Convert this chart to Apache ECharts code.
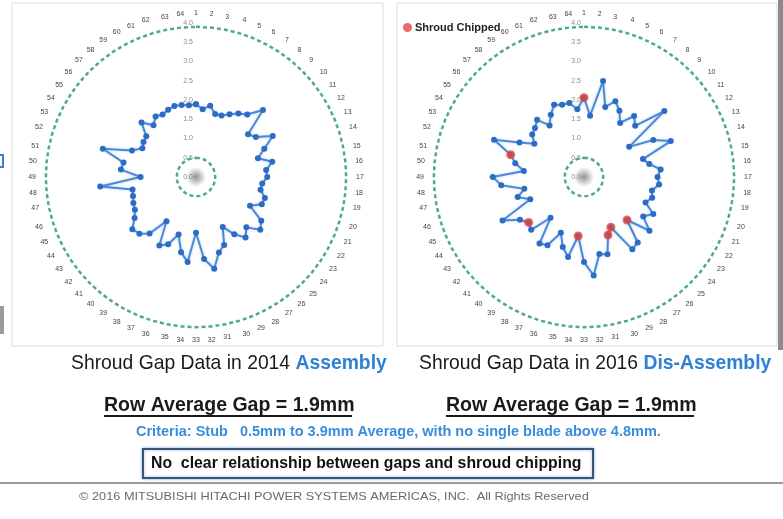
<!DOCTYPE html>
<html>
<head>
<meta charset="utf-8">
<script src="https://cdn.jsdelivr.net/npm/echarts@6/dist/echarts.min.js"></script>
<style>
  html, body { margin: 0; padding: 0; background: #ffffff; }
  #chart { width: 783px; height: 519px; }
</style>
</head>
<body>
<div id="chart"></div>
<script>
// Blade numbers around the row (angle axis labels)
const blades = ['1','2','3','4','5','6','7','8','9','10','11','12','13','14','15','16',
  '17','18','19','20','21','22','23','24','25','26','27','28','29','30','31','32',
  '33','34','35','36','37','38','39','40','41','42','43','44','45','46','47','48',
  '49','50','51','52','53','54','55','56','57','58','59','60','61','62','63','64'];

// Shroud gap per blade (mm), 2014 assembly
const gap2014 = [1.89,1.77,1.89,1.71,1.73,1.85,1.98,2.10,2.46,1.75,1.87,2.26,1.92,1.68,2.02,1.83,
  1.85,1.73,1.71,1.87,1.85,1.59,2.04,2.16,1.85,2.03,1.79,1.47,1.91,2.05,2.43,2.14,
  1.45,2.22,1.99,1.56,1.89,2.02,1.38,1.90,2.08,2.14,1.92,1.80,1.76,1.71,1.68,2.50,
  1.44,1.96,1.92,2.53,1.80,1.58,1.64,1.67,2.00,1.74,1.89,1.84,1.89,1.93,1.91,1.87];

// Shroud gap per blade (mm), 2016 dis-assembly
const gap2016 = [2.06,1.60,2.54,1.90,2.13,1.95,1.69,2.05,1.88,2.70,1.41,2.04,2.44,1.60,1.73,2.00,
  1.91,1.96,1.80,1.85,1.73,2.04,1.85,2.20,1.58,2.20,2.26,1.48,1.63,2.10,2.04,2.57,
  2.21,1.54,2.12,1.90,1.57,2.01,2.08,1.37,1.94,1.86,2.00,2.40,1.51,1.80,1.58,2.16,
  2.37,1.57,1.82,1.99,2.53,1.90,1.55,1.74,1.80,1.92,1.61,1.83,2.03,1.96,1.96,1.77];

// Blades found with a chipped shroud in 2016
const chipped2016 = [1, 25, 28, 29, 34, 42, 52];

// Criteria limits (mm)
const criteriaMin = 0.5;
const criteriaAvgMax = 3.9;

// Radial axis range (mm)
const radiusMax = 4.0;
const radiusStep = 0.5;

const FONT = "'Liberation Sans', Arial, sans-serif";
const BLUE_TXT = '#2f7fd4';
const N = blades.length;

// closed loop: blade index as angle, last point returns to blade 1
function loop(values) {
  const pts = values.map((v, i) => [v, i]);
  pts.push([values[0], N]);
  return pts;
}
function ring(value) {
  const pts = [];
  for (let i = 0; i <= N; i++) pts.push([value, i]);
  return pts;
}

const centers = [[196, 177], [584, 177]];

const angleAxes = centers.map((c, k) => ({
  polarIndex: k,
  type: 'value',
  min: 0,
  max: N,
  interval: 1,
  startAngle: 90,
  clockwise: true,
  axisLine: { show: false },
  axisTick: { show: false },
  splitLine: { show: false },
  axisLabel: {
    fontSize: 7, color: '#444', margin: 6, fontFamily: FONT,
    formatter: v => (v < N ? blades[v] : '')
  }
}));

const radiusAxes = centers.map((c, k) => ({
  polarIndex: k,
  type: 'value',
  min: 0,
  max: radiusMax,
  interval: radiusStep,
  axisLine: { show: false },
  axisTick: { show: false },
  splitLine: { show: false },
  axisLabel: { fontSize: 7, color: '#8c8c8c', margin: 3, fontFamily: FONT,
    align: 'right', formatter: v => v.toFixed(1) },
  z: 1
}));

function ringSeries(k, value) {
  return {
    type: 'line', coordinateSystem: 'polar', polarIndex: k,
    data: ring(value), symbol: 'none', silent: true, smooth: false,
    lineStyle: { color: '#4fa897', width: 2.5, type: [4, 3] },
    z: 1
  };
}
function gapSeries(k, values) {
  return {
    type: 'line', coordinateSystem: 'polar', polarIndex: k,
    data: loop(values), symbol: 'circle', symbolSize: 6,
    itemStyle: { color: '#2c6cc4' },
    lineStyle: { color: '#4a88d8', width: 2,
      shadowColor: 'rgba(74,136,216,0.35)', shadowBlur: 3 },
    z: 3
  };
}

// left-anchored caption text, condensed horizontally by sx
function caption(x, y, sx, style) {
  return { type: 'text', x: x, y: y, scaleX: sx, originX: 0, originY: 0,
    style: Object.assign({ verticalAlign: 'middle', align: 'left', fontFamily: FONT }, style) };
}

const option = {
  backgroundColor: '#ffffff',
  animation: false,
  legend: {
    data: ['Shroud Chipped'],
    left: 398, top: 17,
    icon: 'circle', itemWidth: 9, itemHeight: 9, itemGap: 3,
    textStyle: { fontSize: 11, fontWeight: 'bold', color: '#222', fontFamily: FONT, padding: [0, 0, 0, -2] }
  },
  polar: centers.map(c => ({ center: c, radius: 154 })),
  angleAxis: angleAxes,
  radiusAxis: radiusAxes,
  series: [
    ringSeries(0, criteriaMin), ringSeries(0, criteriaAvgMax),
    ringSeries(1, criteriaMin), ringSeries(1, criteriaAvgMax),
    gapSeries(0, gap2014),
    gapSeries(1, gap2016),
    {
      name: 'Shroud Chipped', type: 'scatter', coordinateSystem: 'polar', polarIndex: 1,
      data: chipped2016.map(b => [gap2016[b - 1], b - 1]),
      symbolSize: 9, itemStyle: { color: '#e2463f' }, z: 5
    }
  ],
  graphic: [
    // panel frames
    { type: 'rect', shape: { x: 12, y: 3, width: 371, height: 343 },
      style: { fill: 'none', stroke: '#dcdcdc', lineWidth: 1 }, z: -1 },
    { type: 'rect', shape: { x: 397, y: 3, width: 380, height: 343 },
      style: { fill: 'none', stroke: '#dcdcdc', lineWidth: 1 }, z: -1 },
    { type: 'rect', shape: { x: 778, y: 0, width: 5, height: 350 },
      style: { fill: '#8a8a8a' }, z: -1 },
    // slide edge fragments
    { type: 'rect', shape: { x: -6, y: 155, width: 9, height: 12 },
      style: { fill: 'none', stroke: '#3a7fd0', lineWidth: 2 } },
    { type: 'rect', shape: { x: 0, y: 306, width: 4, height: 28 },
      style: { fill: '#9a9a9a' } },
    // soft grey spot at each pole
    ...centers.map(c => ({
      type: 'circle', shape: { cx: c[0], cy: c[1], r: 10 },
      style: { fill: new echarts.graphic.RadialGradient(0.5, 0.5, 0.5, [
        { offset: 0, color: 'rgba(110,110,110,0.75)' },
        { offset: 1, color: 'rgba(110,110,110,0)' }]) },
      silent: true, z: 0
    })),
    // chart captions
    caption(71, 363, 0.92, {
      text: '{a|Shroud Gap Data in 2014 }{b|Assembly}',
      rich: { a: { fontSize: 21, fontFamily: FONT, fill: '#1a1a1a' },
              b: { fontSize: 21, fontFamily: FONT, fontWeight: 'bold', fill: BLUE_TXT } } }),
    caption(419, 363, 0.92, {
      text: '{a|Shroud Gap Data in 2016 }{b|Dis-Assembly}',
      rich: { a: { fontSize: 21, fontFamily: FONT, fill: '#1a1a1a' },
              b: { fontSize: 21, fontFamily: FONT, fontWeight: 'bold', fill: BLUE_TXT } } }),
    // row averages
    caption(104, 405, 0.93, { text: 'Row Average Gap = 1.9mm',
      fontSize: 21, fontWeight: 'bold', fill: '#1a1a1a' }),
    { type: 'line', shape: { x1: 104, y1: 416, x2: 352, y2: 416 }, style: { stroke: '#1a1a1a', lineWidth: 2 } },
    caption(446, 405, 0.93, { text: 'Row Average Gap = 1.9mm',
      fontSize: 21, fontWeight: 'bold', fill: '#1a1a1a' }),
    { type: 'line', shape: { x1: 446, y1: 416, x2: 694, y2: 416 }, style: { stroke: '#1a1a1a', lineWidth: 2 } },
    // criteria note
    caption(136, 432, 1, {
      text: 'Criteria: Stub   0.5mm to 3.9mm Average, with no single blade above 4.8mm.',
      fontSize: 14.5, fontWeight: 'bold', fill: '#3a8ddc' }),
    // conclusion box
    { type: 'rect', shape: { x: 143, y: 449, width: 450, height: 29 },
      style: { fill: '#ffffff', stroke: '#35557a', lineWidth: 2,
        shadowColor: 'rgba(60,110,180,0.5)', shadowBlur: 3 } },
    caption(151, 463, 0.93, {
      text: 'No  clear relationship between gaps and shroud chipping',
      fontSize: 17, fontWeight: 'bold', fill: '#111' }),
    // footer rule and notice
    { type: 'line', shape: { x1: 0, y1: 483, x2: 783, y2: 483 }, style: { stroke: '#9a9a9a', lineWidth: 2 } },
    caption(79, 497, 1.16, {
      text: '\u00A9 2016 MITSUBISHI HITACHI POWER SYSTEMS AMERICAS, INC.  All Rights Reserved',
      fontSize: 11, fill: '#6a6a6a' })
  ]
};

echarts.init(document.getElementById('chart'), null, { renderer: 'canvas' }).setOption(option);
</script>
</body>
</html>
